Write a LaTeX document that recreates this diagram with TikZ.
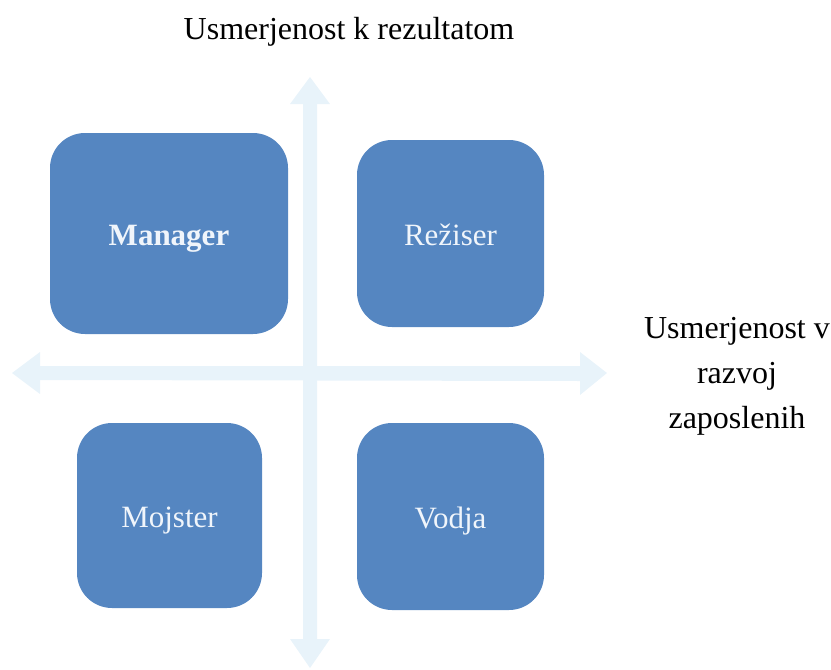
\documentclass[tikz,border=0pt]{standalone}
\usepackage{fontspec}
\setmainfont{Liberation Serif}
\definecolor{boxblue}{RGB}{85,134,193}
\definecolor{boxtext}{RGB}{240,245,251}
\definecolor{axisblue}{RGB}{232,243,250}
\begin{document}
\begin{tikzpicture}[x=1pt,y=-1pt,
  quad/.style={fill=boxblue, draw=none, rounded corners=35pt,
    text=boxtext, font=\fontsize{31}{36}\selectfont, inner sep=0pt,
    text height=24pt, text depth=0pt},
  axislabel/.style={text=black, font=\fontsize{32}{45}\selectfont, align=center, inner sep=0pt}]
\useasboundingbox (0,0) rectangle (831,670);

% axes: vertical and horizontal double-headed arrows
\coordinate (vtop) at (310,77);
\coordinate (vbot) at (310,668);
\coordinate (hleft) at (12,373);
\coordinate (hright) at (607,373);
\fill[axisblue]
  (vtop) -- ++(20,27) -- ++(-13,0) -- (317,639) -- ++(13,0) -- (vbot)
  -- ++(-20,-29) -- ++(13,0) -- (303,104) -- ++(-13,0) -- cycle;
\fill[axisblue]
  (hleft) -- ++(28,-21) -- ++(0,14) -- (580,366) -- ++(0,-14) -- (hright)
  -- ++(-27,22) -- ++(0,-14) -- (40,380) -- ++(0,14) -- cycle;

% quadrants
\node[quad, minimum width=238pt, minimum height=201pt] (manager) at (169,233.5) {\bfseries Manager};
\node[quad, minimum width=187pt, minimum height=187pt] (reziser) at (450.5,233.5) {Režiser};
\node[quad, minimum width=185pt, minimum height=185pt] (mojster) at (169.5,515.5) {Mojster};
\node[quad, minimum width=187pt, minimum height=187pt] (vodja) at (450.5,516.5) {Vodja};

% axis captions
\node[axislabel] (yaxis) at (349,32) {Usmerjenost k rezultatom};
\node[axislabel] (xaxis) at (737,376) {Usmerjenost v\\razvoj\\zaposlenih};
\end{tikzpicture}
\end{document}
